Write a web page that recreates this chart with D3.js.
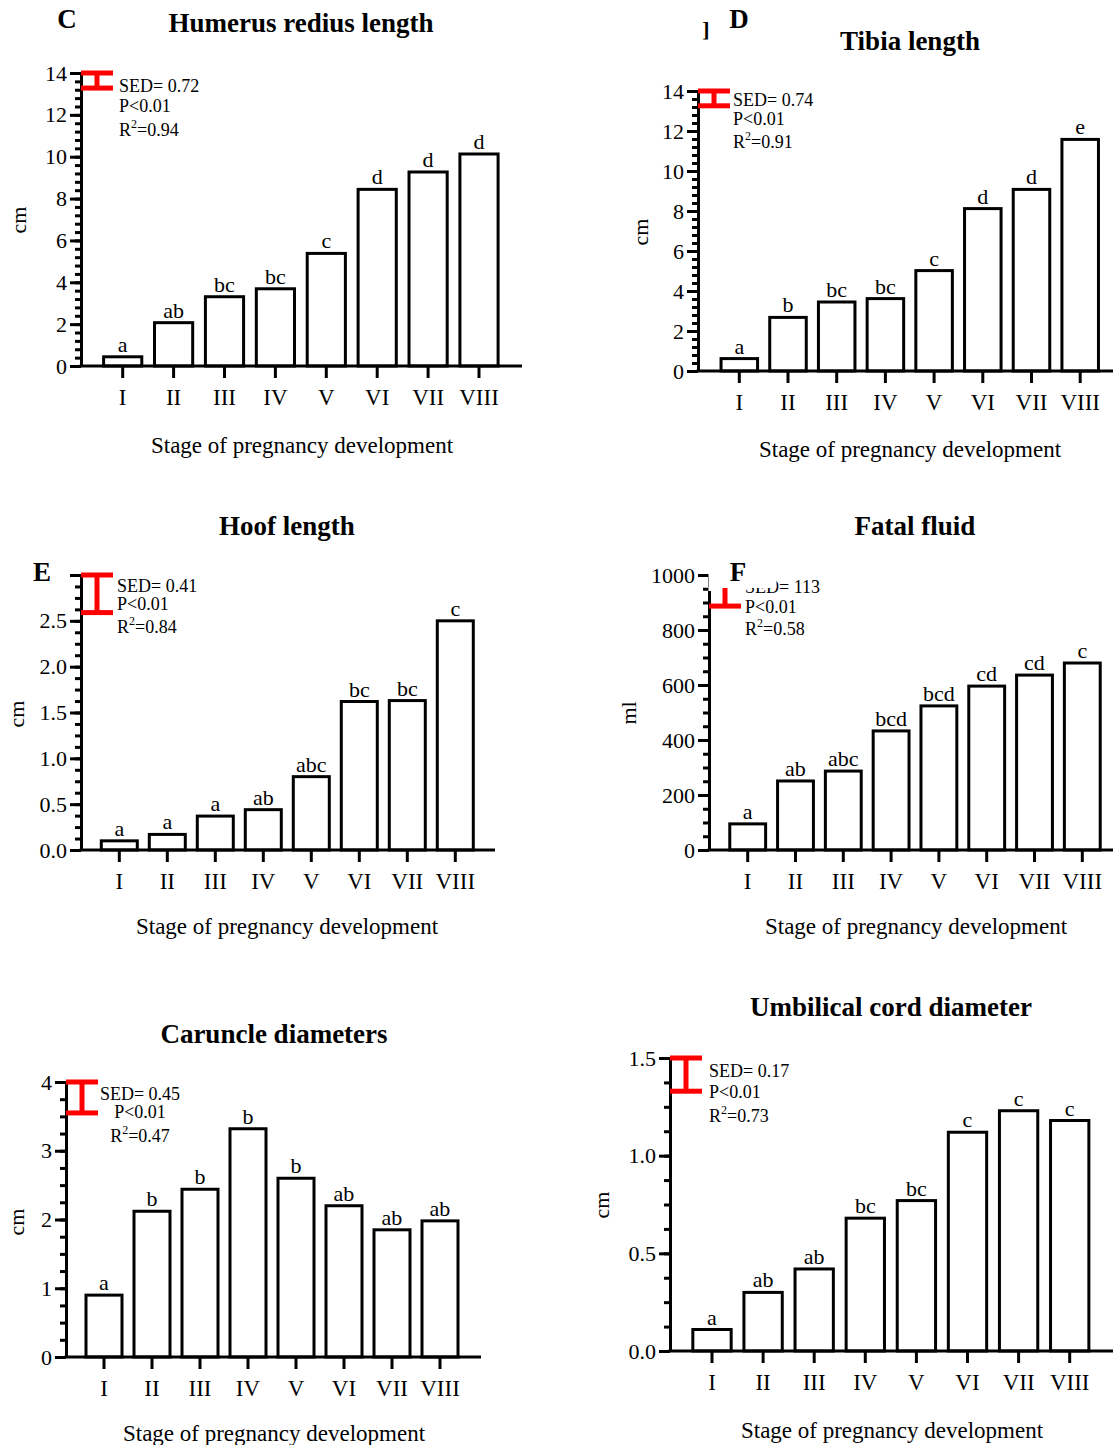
<!DOCTYPE html>
<html>
<head>
<meta charset="utf-8">
<script src="https://cdn.jsdelivr.net/npm/d3@7"></script>
<style>
  body { margin: 0; background: #fff; }
  svg { font-family: "Liberation Serif", "Times New Roman", serif; }
</style>
</head>
<body>
<svg id="chart" width="1113" height="1445"></svg>
<script>
// stages on every x axis
const stages = ["I", "II", "III", "IV", "V", "VI", "VII", "VIII"];

// values
const humerusValues = [0.44, 2.07, 3.31, 3.69, 5.38, 8.44, 9.27, 10.13];
const humerusLetters = ["a", "ab", "bc", "bc", "c", "d", "d", "d"];

const tibiaValues = [0.62, 2.68, 3.45, 3.62, 5.02, 8.12, 9.08, 11.58];
const tibiaLetters = ["a", "b", "bc", "bc", "c", "d", "d", "e"];

const hoofValues = [0.10, 0.17, 0.37, 0.44, 0.80, 1.62, 1.63, 2.50];
const hoofLetters = ["a", "a", "a", "ab", "abc", "bc", "bc", "c"];

const fluidValues = [95, 251, 287, 433, 524, 596, 636, 680];
const fluidLetters = ["a", "ab", "abc", "bcd", "bcd", "cd", "cd", "c"];

const caruncleValues = [0.90, 2.12, 2.44, 3.32, 2.60, 2.20, 1.85, 1.98];
const caruncleLetters = ["a", "b", "b", "b", "b", "ab", "ab", "ab"];

const cordValues = [0.11, 0.30, 0.42, 0.68, 0.77, 1.12, 1.23, 1.18];
const cordLetters = ["a", "ab", "ab", "bc", "bc", "c", "c", "c"];

const svg = d3.select("#chart");
const serif = "Liberation Serif, Times New Roman, serif";

const panels = [
  { title: "Humerus redius length", tag: "C", values: humerusValues, letters: humerusLetters,
    yMax: 14, major: 2, minor: 0.4, unit: "cm", sed: 0.72, p: "P<0.01", r2: "0.94",
    axisX: 81, y0: 366, yTop: 73, first: 122.7, step: 50.9, xEnd: 522,
    titleX: 301, titleY: 32, tagX: 67, tagY: 28, unitX: 18, unitY: 220,
    noteX: 119, noteAnchor: "start", noteDy: [19, 39, 63], axisTitleX: 302, axisTitleY: 453 },
  { title: "Tibia length", tag: "D", values: tibiaValues, letters: tibiaLetters,
    yMax: 14, major: 2, minor: 0.4, unit: "cm", sed: 0.74, p: "P<0.01", r2: "0.91",
    axisX: 698, y0: 371, yTop: 91, first: 739.3, step: 48.7, xEnd: 1113,
    titleX: 910, titleY: 50, tagX: 739, tagY: 28, unitX: 640, unitY: 232,
    noteX: 733, noteAnchor: "start", noteDy: [15, 34, 57], axisTitleX: 910, axisTitleY: 457 },
  { title: "Hoof length", tag: "E", values: hoofValues, letters: hoofLetters,
    yMax: 3, major: 0.5, minor: 0.125, unit: "cm", sed: 0.41, p: "P<0.01", r2: "0.84",
    axisX: 81, y0: 850, yTop: 575, first: 119.3, step: 48, xEnd: 495, hideTop: true,
    titleX: 287, titleY: 535, tagX: 42, tagY: 581, unitX: 16, unitY: 714,
    noteX: 117, noteAnchor: "start", noteDy: [17, 35, 58], axisTitleX: 287, axisTitleY: 934 },
  { title: "Fatal fluid", tag: "F", values: fluidValues, letters: fluidLetters,
    yMax: 1000, major: 200, minor: 50, unit: "ml", sed: 113, p: "P<0.01", r2: "0.58",
    axisX: 709, y0: 850, yTop: 575, first: 747.7, step: 47.8, xEnd: 1113, tagMask: true,
    titleX: 915, titleY: 535, tagX: 738, tagY: 581, unitX: 628, unitY: 713,
    noteX: 745, noteAnchor: "start", noteDy: [18, 38, 60], axisTitleX: 916, axisTitleY: 934 },
  { title: "Caruncle diameters", tag: "", values: caruncleValues, letters: caruncleLetters,
    yMax: 4, major: 1, minor: 0.25, unit: "cm", sed: 0.45, p: "P<0.01", r2: "0.47",
    axisX: 66, y0: 1357, yTop: 1082, first: 104, step: 48, xEnd: 481,
    titleX: 274, titleY: 1043, unitX: 16, unitY: 1222,
    noteX: 140, noteAnchor: "middle", noteDy: [18, 36, 60], axisTitleX: 274, axisTitleY: 1441 },
  { title: "Umbilical cord diameter", tag: "", values: cordValues, letters: cordLetters,
    yMax: 1.5, major: 0.5, minor: 0.125, unit: "cm", sed: 0.17, p: "P<0.01", r2: "0.73",
    axisX: 670, y0: 1351, yTop: 1058, first: 712, step: 51.1, xEnd: 1113,
    titleX: 891, titleY: 1016, unitX: 601, unitY: 1205,
    noteX: 709, noteAnchor: "start", noteDy: [19, 40, 64], axisTitleX: 892, axisTitleY: 1438 }
];

function drawPanel(c) {
  const g = svg.append("g");

  const y = d3.scaleLinear().domain([0, c.yMax]).range([c.y0, c.yTop]);
  const x = d3.scaleBand()
    .domain(stages)
    .range([c.first - c.step / 2, c.first + 7.5 * c.step])
    .paddingInner(0.25)
    .paddingOuter(0.125);

  // title
  g.append("text").attr("x", c.titleX).attr("y", c.titleY)
    .attr("text-anchor", "middle").style("font-weight", "bold").style("font-size", "27px")
    .text(c.title);

  // y axis: minor then major ticks
  const minorVals = d3.range(0, c.yMax + c.minor / 2, c.minor);
  const majorVals = d3.range(0, c.yMax + c.major / 2, c.major);
  const fmt = v => (c.hideTop && v === c.yMax) ? "" : (c.major < 1 ? d3.format(".1f")(v) : d3.format("d")(v));

  const minorAxis = g.append("g").attr("transform", `translate(${c.axisX},0)`)
    .call(d3.axisLeft(y).tickValues(minorVals).tickSize(6).tickSizeOuter(0).tickFormat(""));
  minorAxis.select(".domain").remove();
  minorAxis.selectAll("line").attr("stroke", "#000").attr("stroke-width", 3);

  const majorAxis = g.append("g").attr("transform", `translate(${c.axisX},0)`)
    .call(d3.axisLeft(y).tickValues(majorVals).tickSize(11).tickSizeOuter(0).tickPadding(3).tickFormat(fmt))
    .attr("font-family", serif).attr("font-size", 22);
  majorAxis.select(".domain").attr("stroke", "#000").attr("stroke-width", 3);
  majorAxis.selectAll("line").attr("stroke", "#000").attr("stroke-width", 3);
  majorAxis.selectAll("text").attr("fill", "#000");

  // y label
  g.append("text").attr("transform", `translate(${c.unitX},${c.unitY}) rotate(-90)`)
    .attr("text-anchor", "middle").attr("dy", "0.35em").style("font-size", "22px")
    .text(c.unit);

  // bars
  g.selectAll("rect.bar").data(c.values).join("rect")
    .attr("class", "bar")
    .attr("x", (d, i) => x(stages[i]))
    .attr("width", x.bandwidth())
    .attr("y", d => y(d))
    .attr("height", d => y(0) - y(d))
    .attr("fill", "#fff").attr("stroke", "#000").attr("stroke-width", 3);

  // letters above bars
  g.selectAll("text.letter").data(c.letters).join("text")
    .attr("class", "letter")
    .attr("x", (d, i) => x(stages[i]) + x.bandwidth() / 2)
    .attr("y", (d, i) => y(c.values[i]) - 5)
    .attr("text-anchor", "middle").style("font-size", "22px")
    .text(d => d);

  // x axis
  const xAxis = g.append("g").attr("transform", `translate(0,${c.y0})`)
    .call(d3.axisBottom(x).tickSize(12).tickSizeOuter(0).tickPadding(11))
    .attr("font-family", serif).attr("font-size", 23);
  xAxis.select(".domain").remove();
  xAxis.selectAll("line").attr("stroke", "#000").attr("stroke-width", 3);
  xAxis.selectAll("text").attr("fill", "#000");
  g.append("line").attr("x1", c.axisX - 1.5).attr("x2", c.xEnd)
    .attr("y1", c.y0).attr("y2", c.y0).attr("stroke", "#000").attr("stroke-width", 3);

  g.append("text").attr("x", c.axisTitleX).attr("y", c.axisTitleY)
    .attr("text-anchor", "middle").style("font-size", "23px")
    .text("Stage of pregnancy development");

  // SED bar
  const ex = c.axisX + 16;
  const eb = g.append("g").attr("stroke", "red").attr("stroke-width", 5);
  eb.append("line").attr("x1", ex).attr("x2", ex).attr("y1", y(c.yMax)).attr("y2", y(c.yMax - c.sed));
  eb.append("line").attr("x1", ex - 16).attr("x2", ex + 16).attr("y1", y(c.yMax)).attr("y2", y(c.yMax));
  eb.append("line").attr("x1", ex - 16).attr("x2", ex + 16).attr("y1", y(c.yMax - c.sed)).attr("y2", y(c.yMax - c.sed));

  // statistics note
  const note = g.append("g").style("font-size", "18px").attr("text-anchor", c.noteAnchor);
  note.append("text").attr("x", c.noteX).attr("y", c.yTop + c.noteDy[0]).text("SED= " + c.sed);
  note.append("text").attr("x", c.noteX).attr("y", c.yTop + c.noteDy[1]).text(c.p);
  const r = note.append("text").attr("x", c.noteX).attr("y", c.yTop + c.noteDy[2]);
  r.append("tspan").text("R");
  r.append("tspan").attr("dy", -8).style("font-size", "12px").text("2");
  r.append("tspan").attr("dy", 8).text("=" + c.r2);

  // the F tag box covers part of the axis and note in the original
  if (c.tagMask) {
    g.append("rect").attr("x", c.axisX - 0.5).attr("y", c.yTop - 8)
      .attr("width", 68).attr("height", 21).attr("fill", "#fff");
    g.append("rect").attr("x", c.axisX - 0.5).attr("y", c.yTop + 12)
      .attr("width", 12).attr("height", 4).attr("fill", "#fff");
  }

  if (c.tag) {
    g.append("text").attr("x", c.tagX).attr("y", c.tagY).attr("text-anchor", "middle")
      .style("font-weight", "bold").style("font-size", "27px").text(c.tag);
  }
}

panels.forEach(drawPanel);

// stray bracket next to the D tag
svg.append("text").attr("x", 706).attr("y", 37).attr("text-anchor", "middle")
  .style("font-weight", "bold").style("font-size", "22px").text("]");
</script>
</body>
</html>
